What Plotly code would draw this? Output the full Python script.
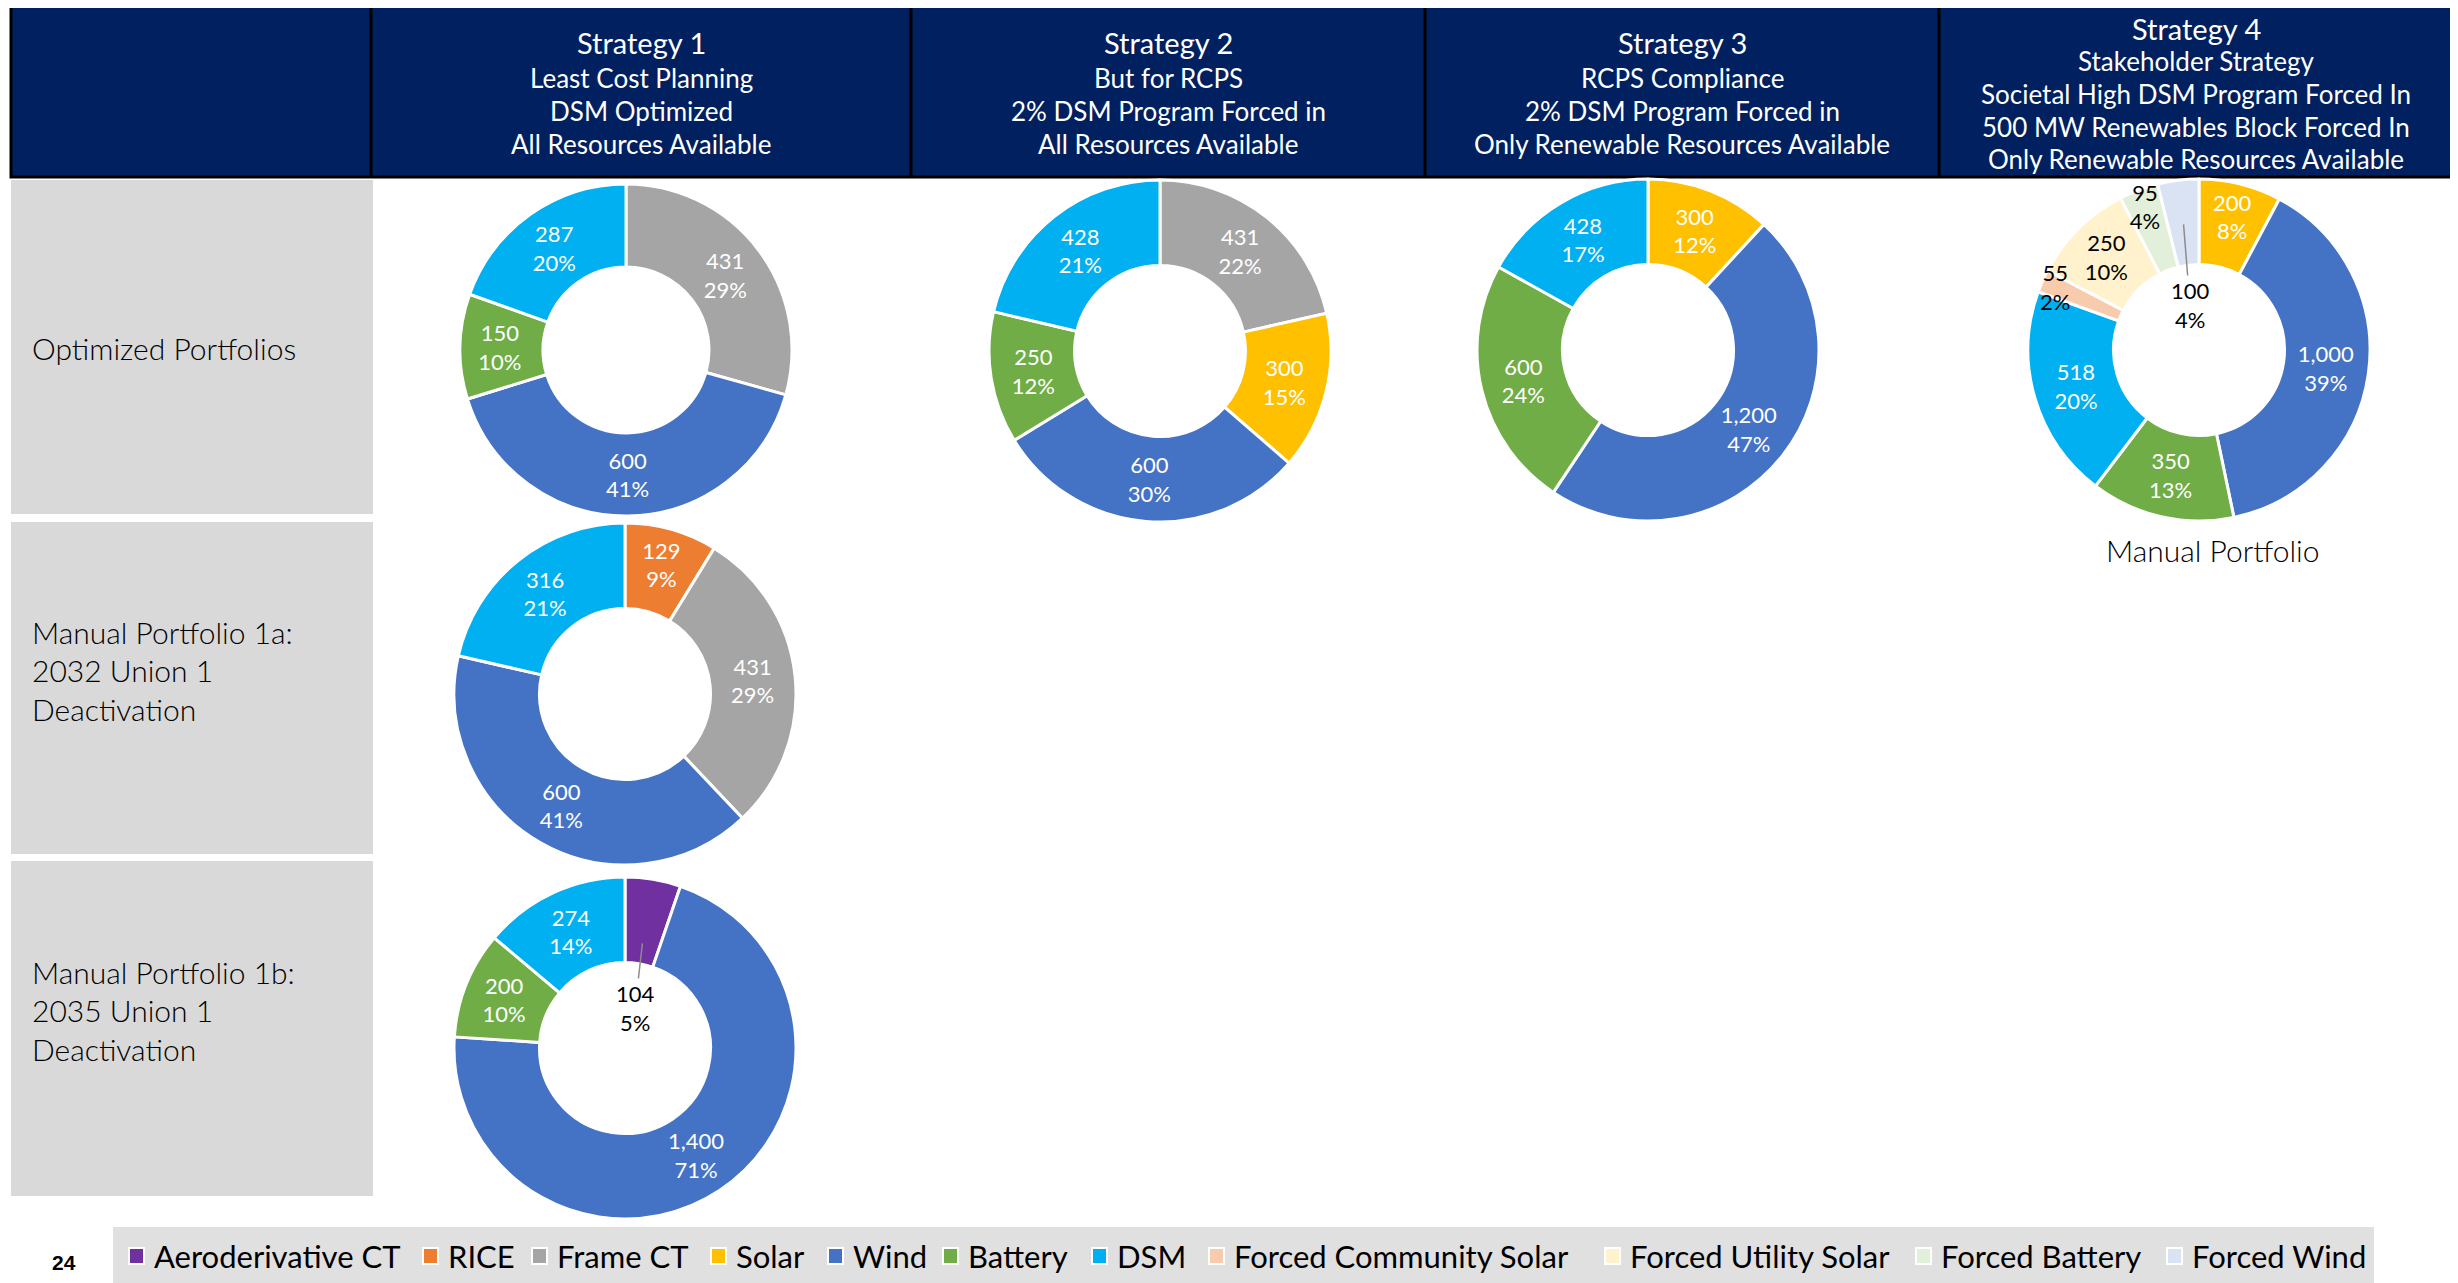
import math
import plotly.graph_objects as go

W, H = 2458, 1283
OFF = 8  # page body margin compensation

# ---------------- DATA ----------------
resources = ["Aeroderivative CT", "RICE", "Frame CT", "Solar", "Wind", "Battery", "DSM",
             "Forced Community Solar", "Forced Utility Solar", "Forced Battery", "Forced Wind"]
resource_colors = ["#7030A0", "#ED7D31", "#A5A5A5", "#FFC000", "#4472C4", "#70AD47", "#00B0F0",
                   "#F8CBAD", "#FFF2CC", "#E2F0D9", "#DAE3F3"]

s1_labels = ["Frame CT", "Wind", "Battery", "DSM"]
s1_values = [431, 600, 150, 287]
s1_pct = [29, 41, 10, 20]

s2_labels = ["Frame CT", "Solar", "Wind", "Battery", "DSM"]
s2_values = [431, 300, 600, 250, 428]
s2_pct = [22, 15, 30, 12, 21]

s3_labels = ["Solar", "Wind", "Battery", "DSM"]
s3_values = [300, 1200, 600, 428]
s3_pct = [12, 47, 24, 17]

s4_labels = ["Solar", "Wind", "Battery", "DSM", "Forced Community Solar",
             "Forced Utility Solar", "Forced Battery", "Forced Wind"]
s4_values = [200, 1000, 350, 518, 55, 250, 95, 100]
s4_pct = [8, 39, 13, 20, 2, 10, 4, 4]

m1a_labels = ["RICE", "Frame CT", "Wind", "DSM"]
m1a_values = [129, 431, 600, 316]
m1a_pct = [9, 29, 41, 21]

m1b_labels = ["Aeroderivative CT", "Wind", "Battery", "DSM"]
m1b_values = [104, 1400, 200, 274]
m1b_pct = [5, 71, 10, 14]

header_texts = [
    ["Strategy 1", "Least Cost Planning", "DSM Optimized", "All Resources Available"],
    ["Strategy 2", "But for RCPS", "2% DSM Program Forced in", "All Resources Available"],
    ["Strategy 3", "RCPS Compliance", "2% DSM Program Forced in", "Only Renewable Resources Available"],
    ["Strategy 4", "Stakeholder Strategy", "Societal High DSM Program Forced In",
     "500 MW Renewables Block Forced In", "Only Renewable Resources Available"],
]
row_texts = [
    ["Optimized Portfolios"],
    ["Manual Portfolio 1a:", "2032 Union 1", "Deactivation"],
    ["Manual Portfolio 1b:", "2035 Union 1", "Deactivation"],
]
manual_label = "Manual Portfolio"
page_number = "24"

# ---------------- LAYOUT / STYLE ----------------
FONT = "Lato"
NAVY = "#002060"
GREY = "#D9D9D9"
LEGEND_BG = "#E0E0E0"
light_slices = {"Forced Community Solar", "Forced Utility Solar", "Forced Battery", "Forced Wind"}
color_of = dict(zip(resources, resource_colors))


def X(px):
    return (px - OFF) / W


def Y(py):
    return 1 - (py - OFF) / H


fig = go.Figure()
shapes = []
annotations = []


def slice_point(labels, values, name, cx, cy, R, frac):
    total = sum(values)
    i = labels.index(name)
    start = sum(values[:i]) / total * 360
    mid = math.radians(start + values[i] / total * 360 / 2)
    return cx + frac * R * math.sin(mid), cy - frac * R * math.cos(mid)


def add_pie(labels, values, pct, cx, cy, R, leader=None, leader_r=0.72, label_off=(0, -45),
            edge=None, edge_r=0.9):
    texts = [f"{v:,}<br>{p}%" for v, p in zip(values, pct)]
    tcolors = ["#000000" if l in light_slices else "#FFFFFF" for l in labels]
    tpos = ["none" if l in (leader, edge) else "inside" for l in labels]
    fig.add_trace(go.Pie(
        labels=labels, values=values, text=texts, textinfo="text", texttemplate="%{text}",
        sort=False, direction="clockwise", rotation=0, hole=0.5,
        marker=dict(colors=[color_of[l] for l in labels], line=dict(color="white", width=3)),
        textposition=tpos, insidetextorientation="horizontal",
        textfont=dict(family=FONT, size=22, color=tcolors),
        domain=dict(x=[X(cx - R), X(cx + R)], y=[Y(cy + R), Y(cy - R)]),
        showlegend=False, hoverinfo="label+value+percent",
    ))
    if leader is not None:
        i = labels.index(leader)
        tx, ty = slice_point(labels, values, leader, cx, cy, R, leader_r)
        lx, ly = cx + label_off[0], cy + label_off[1]
        annotations.append(dict(
            x=X(tx), y=Y(ty), xref="paper", yref="paper",
            ax=lx - tx, ay=ly - ty, axref="pixel", ayref="pixel",
            text=texts[i], showarrow=True, arrowhead=0, arrowwidth=1.5,
            arrowcolor="#8C8C8C", standoff=0, startstandoff=0,
            font=dict(family=FONT, size=22, color="#000000"), align="center",
        ))
    if edge is not None:
        i = labels.index(edge)
        ex, ey = slice_point(labels, values, edge, cx, cy, R, edge_r)
        annotations.append(dict(
            x=X(ex), y=Y(ey), xref="paper", yref="paper", text=texts[i], showarrow=False,
            xanchor="center", yanchor="middle", align="center",
            font=dict(family=FONT, size=22, color="#000000"),
        ))


# Header band
HDR_TOP, HDR_BOT = 5, 177
col_edges = [11, 371, 911, 1425, 1939, 2453]
shapes.append(dict(type="rect", xref="paper", yref="paper", x0=X(col_edges[0]), x1=X(col_edges[-1]),
                   y0=Y(HDR_BOT), y1=Y(HDR_TOP), fillcolor=NAVY, line=dict(color="#000000", width=3),
                   layer="below"))
for xe in col_edges[1:-1]:
    shapes.append(dict(type="line", xref="paper", yref="paper", x0=X(xe), x1=X(xe),
                       y0=Y(HDR_BOT), y1=Y(HDR_TOP), line=dict(color="#000000", width=3)))

for ci, lines in enumerate(header_texts):
    xc = (col_edges[ci + 1] + col_edges[ci + 2]) / 2
    if len(lines) == 4:
        ys = [43, 78, 111, 144]
    else:
        ys = [29, 61, 94, 127, 159]
    for li, (t, yy) in enumerate(zip(lines, ys)):
        annotations.append(dict(x=X(xc), y=Y(yy), xref="paper", yref="paper", text=t,
                                showarrow=False, xanchor="center", yanchor="middle",
                                font=dict(family=FONT, size=29 if li == 0 else 26,
                                          color="#FFFFFF")))

# Row label boxes
row_boxes = [(180, 514), (522, 854), (861, 1196)]
row_line_ys = [[348], [632, 670, 709], [972, 1010, 1049]]
for (y0, y1), lines, ys in zip(row_boxes, row_texts, row_line_ys):
    shapes.append(dict(type="rect", xref="paper", yref="paper", x0=X(11), x1=X(373),
                       y0=Y(y1), y1=Y(y0), fillcolor=GREY, line=dict(width=0), layer="below"))
    for t, yy in zip(lines, ys):
        annotations.append(dict(x=X(30), y=Y(yy), xref="paper", yref="paper", text=t,
                                showarrow=False, xanchor="left", yanchor="middle",
                                font=dict(family=FONT, size=30, color="#000000", weight=300)))

# Donuts
add_pie(s1_labels, s1_values, s1_pct, 626, 350, 166)
add_pie(s2_labels, s2_values, s2_pct, 1160, 351, 171)
add_pie(s3_labels, s3_values, s3_pct, 1648, 350, 171)
add_pie(s4_labels, s4_values, s4_pct, 2199, 350, 171, leader="Forced Wind",
        leader_r=0.74, label_off=(-9, -45), edge="Forced Community Solar", edge_r=0.92)
add_pie(m1a_labels, m1a_values, m1a_pct, 625, 694, 171)
add_pie(m1b_labels, m1b_values, m1b_pct, 625, 1048, 171, leader="Aeroderivative CT",
        leader_r=0.62, label_off=(10, -40))

annotations.append(dict(x=X(2213), y=Y(550), xref="paper", yref="paper", text=manual_label,
                        showarrow=False, xanchor="center", yanchor="middle",
                        font=dict(family=FONT, size=30, color="#000000", weight=300)))

# Legend band (manual)
shapes.append(dict(type="rect", xref="paper", yref="paper", x0=X(113), x1=X(2374),
                   y0=Y(1283), y1=Y(1227), fillcolor=LEGEND_BG, line=dict(width=0), layer="below"))
legend_x = [129, 423, 532, 711, 828, 943, 1092, 1209, 1605, 1916, 2167]
LEG_Y = 1256
for name, col, lx in zip(resources, resource_colors, legend_x):
    shapes.append(dict(type="rect", xref="paper", yref="paper", x0=X(lx), x1=X(lx + 15),
                       y0=Y(LEG_Y + 8), y1=Y(LEG_Y - 8), fillcolor=col,
                       line=dict(color="#FFFFFF", width=2)))
    annotations.append(dict(x=X(lx + 23), y=Y(LEG_Y), xref="paper", yref="paper", text=name,
                            showarrow=False, xanchor="left", yanchor="middle",
                            font=dict(family=FONT, size=31, color="#000000")))

annotations.append(dict(x=X(64), y=Y(1262), xref="paper", yref="paper", text=f"<b>{page_number}</b>",
                        showarrow=False, xanchor="center", yanchor="middle",
                        font=dict(family="Liberation Sans", size=21, color="#000000")))

fig.update_layout(
    width=W, height=H, margin=dict(l=0, r=0, t=0, b=0),
    paper_bgcolor="#FFFFFF", plot_bgcolor="#FFFFFF",
    shapes=shapes, annotations=annotations, showlegend=False,
    uniformtext=dict(minsize=22, mode="show"),
)
fig.write_html("out.html")
